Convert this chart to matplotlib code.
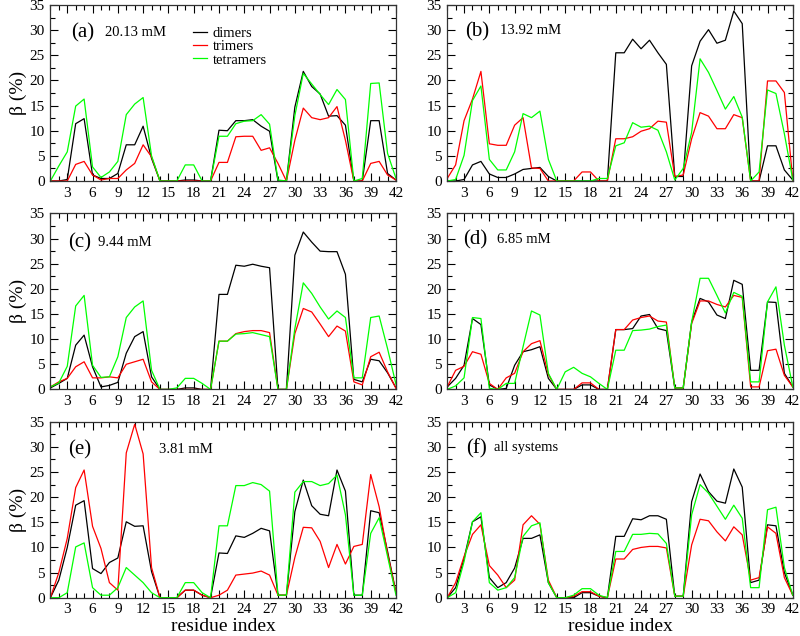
import numpy as np
import matplotlib
matplotlib.use('Agg')
import matplotlib.pyplot as plt
from matplotlib.ticker import MultipleLocator

plt.rcParams['font.family'] = ['Liberation Serif', 'DejaVu Serif']

residue = np.arange(1, 43)

# (a) 20.13 mM
a_dimers = [0, 0, 0.3, 11.4, 12.4, 1.2, 0.5, 0.5, 1.5, 7.2, 7.2, 10.9, 4.5, 0, 0, 0, 0.2, 0.2, 0, 0,
            10.1, 10.0, 12.0, 12.0, 12.2, 10.9, 9.9, 0, 0, 14.7, 21.8, 18.8, 17.3, 12.9, 13.0, 11.1, 0, 0,
            12.0, 12.0, 1.5, 0.2]
a_trimers = [0, 0, 0, 3.3, 3.9, 1.2, 0.2, 0.5, 0.5, 2.2, 3.5, 7.2, 4.8, 0, 0, 0, 0, 0, 0, 0,
             3.7, 3.7, 8.8, 8.9, 8.9, 6.1, 6.6, 3.5, 0, 8.1, 14.5, 12.6, 12.2, 12.6, 14.8, 8.1, 0, 0,
             3.5, 3.9, 1.2, 0.2]
a_tetramers = [0, 3.0, 5.8, 14.9, 16.3, 2.8, 0.7, 1.8, 3.9, 13.2, 15.3, 16.6, 5.0, 0, 0, 0, 3.2, 3.2, 0, 0,
               8.9, 8.9, 11.4, 11.9, 12.0, 13.2, 11.3, 0.2, 0, 13.0, 21.4, 19.3, 17.2, 15.2, 18.2, 16.2, 0, 0.5,
               19.4, 19.5, 5.5, 0.5]

# (b) 13.92 mM
b_dimers = [0, 0, 0.3, 3.2, 3.9, 1.4, 0.7, 0.7, 1.4, 2.3, 2.5, 2.7, 0.9, 0, 0, 0, 0, 0, 0, 0,
            25.5, 25.5, 28.2, 26.3, 28.0, 25.5, 23.2, 0.9, 0.9, 22.9, 27.8, 30.1, 27.4, 28.0, 33.8, 31.3, 0, 0,
            7.0, 7.0, 2.2, 0.2]
b_trimers = [0.5, 3.2, 12.0, 16.3, 21.8, 7.4, 7.1, 7.1, 11.1, 12.6, 2.6, 2.5, 0, 0, 0, 0, 1.8, 1.8, 0, 0,
             8.4, 8.4, 8.8, 9.9, 10.4, 11.9, 11.7, 0.9, 1.2, 8.4, 13.6, 12.9, 10.4, 10.4, 13.2, 12.6, 0, 0,
             19.9, 19.9, 17.6, 0.2]
b_tetramers = [0, 0.3, 5.1, 16.0, 18.9, 4.3, 2.2, 2.2, 5.8, 13.4, 12.6, 13.9, 4.3, 0, 0, 0, 0, 0, 0.5, 0.5,
               7.0, 7.6, 11.6, 10.7, 10.9, 10.1, 5.8, 0.2, 2.5, 9.7, 24.3, 21.6, 18.0, 14.3, 16.8, 12.7, 0, 1.8,
               18.1, 17.4, 9.4, 0.2]

# (c) 9.44 mM
c_dimers = [0.3, 1.2, 2.2, 8.8, 10.8, 4.5, 0.5, 0.8, 1.4, 7.2, 10.5, 11.5, 2.5, 0, 0, 0, 0.3, 0.3, 0, 0,
            18.9, 18.9, 24.7, 24.5, 24.9, 24.5, 24.2, 0, 0, 26.7, 31.3, 29.3, 27.5, 27.4, 27.4, 22.9, 2.0, 1.5,
            6.0, 5.7, 3.3, 0.3]
c_trimers = [0.5, 1.5, 2.2, 4.5, 5.5, 2.3, 2.3, 2.5, 2.3, 5.0, 5.5, 6.0, 1.5, 0, 0, 0, 0, 0, 0, 0,
             9.6, 9.6, 11.1, 11.5, 11.7, 11.7, 11.3, 0, 0, 11.1, 16.1, 15.4, 13.0, 10.5, 12.6, 11.6, 1.5, 0.9,
             6.5, 7.4, 3.5, 0.2]
c_tetramers = [0.5, 1.3, 4.6, 16.6, 18.7, 4.8, 2.4, 2.5, 6.5, 14.3, 16.4, 17.6, 3.8, 0, 0, 0.3, 2.2, 2.2, 1.2, 0,
               9.6, 9.6, 11.0, 11.1, 11.3, 10.9, 10.5, 0, 0, 12.1, 21.2, 19.1, 16.4, 14.0, 15.6, 14.3, 2.3, 2.3,
               14.3, 14.6, 8.1, 1.0]

# (d) 6.85 mM
d_dimers = [0.5, 2.2, 4.8, 14.1, 12.9, 0.9, 0, 0.2, 4.8, 7.5, 7.9, 8.5, 2.2, 0, 0, 0, 0.9, 0.9, 0, 0,
            11.9, 11.9, 12.1, 14.6, 14.9, 12.1, 11.7, 0.3, 0.3, 13.4, 18.1, 17.4, 14.8, 14.1, 21.7, 20.9, 3.8, 3.8,
            17.4, 17.3, 3.2, 0.5]
d_trimers = [0.5, 3.8, 4.6, 7.5, 7.0, 1.2, 0, 2.3, 3.2, 7.5, 9.1, 9.7, 3.0, 0, 0, 0, 1.3, 1.3, 0, 0,
             11.9, 11.9, 13.8, 14.3, 14.6, 13.6, 13.4, 0.3, 0.3, 13.1, 17.6, 17.6, 16.9, 16.4, 18.7, 18.3, 0.5, 0.5,
             7.7, 8.0, 2.8, 0.5]
d_tetramers = [0, 0.7, 2.3, 14.3, 14.1, 0.2, 0, 1.2, 1.2, 8.5, 15.6, 14.8, 3.2, 0, 3.5, 4.4, 3.2, 2.5, 1.2, 0,
               7.8, 7.8, 11.7, 11.8, 12.0, 12.5, 12.8, 0.3, 0.3, 13.4, 22.1, 22.1, 18.7, 15.2, 19.3, 18.5, 1.5, 1.5,
               17.4, 20.4, 8.8, 0.5]

# (e) 3.81 mM
e_dimers = [0, 3.5, 10.0, 18.4, 19.3, 5.8, 4.8, 7.0, 7.9, 15.1, 14.2, 14.3, 5.2, 0, 0, 0, 1.5, 1.5, 0.5, 0,
            8.9, 8.8, 12.3, 12.0, 12.8, 13.8, 13.3, 0.5, 0.5, 17.1, 23.4, 18.3, 16.6, 16.3, 25.4, 21.2, 0.5, 0.5,
            17.3, 16.9, 9.2, 1.0]
e_trimers = [0, 5.0, 11.8, 21.9, 25.4, 14.2, 9.8, 3.0, 1.5, 28.8, 34.5, 28.6, 6.0, 0, 0, 0, 1.5, 1.5, 0.5, 0,
             0.5, 1.5, 4.5, 4.7, 4.9, 5.3, 4.5, 0.5, 0.5, 8.0, 14.0, 13.9, 11.2, 6.0, 10.6, 6.7, 10.2, 10.6,
             24.5, 18.1, 8.8, 1.0]
e_tetramers = [0, 0, 1.0, 10.1, 10.9, 2.0, 0.5, 0.5, 2.0, 6.0, 4.5, 3.0, 1.0, 0, 0, 0, 3.0, 3.0, 1.0, 0,
               14.3, 14.3, 22.3, 22.3, 22.9, 22.5, 21.2, 0.5, 0.5, 21.0, 23.1, 23.1, 22.3, 22.7, 24.4, 16.5, 0.5, 0.5,
               12.8, 15.9, 8.2, 0.5]

# (f) all systems
f_dimers = [0, 2.0, 7.8, 15.1, 16.1, 4.0, 2.0, 3.0, 5.9, 11.8, 11.8, 12.5, 3.0, 0, 0, 0, 1.0, 1.0, 0.3, 0,
            12.2, 12.2, 15.7, 15.5, 16.3, 16.3, 15.6, 0.3, 0.3, 19.1, 24.6, 21.1, 19.2, 18.8, 25.6, 22.0, 3.0, 3.5,
            14.5, 14.3, 5.0, 0.5]
f_trimers = [0, 3.0, 8.2, 12.6, 14.5, 6.4, 4.5, 2.0, 3.5, 14.5, 16.3, 14.6, 3.5, 0, 0, 0.3, 1.2, 1.2, 0.3, 0,
             7.7, 7.7, 9.6, 10.0, 10.2, 10.2, 9.9, 0.3, 0.3, 10.5, 15.6, 15.3, 13.1, 11.3, 14.1, 12.5, 3.5, 4.0,
             14.1, 12.8, 4.0, 0.5]
f_tetramers = [0, 1.0, 7.2, 15.1, 16.9, 3.0, 1.5, 2.0, 4.0, 12.2, 14.3, 14.9, 3.0, 0, 0, 0.5, 1.8, 1.8, 0.5, 0,
               9.2, 9.2, 12.6, 12.6, 12.8, 12.7, 10.8, 0.3, 0.3, 16.5, 22.5, 20.8, 18.2, 15.6, 18.4, 15.8, 2.0, 2.0,
               17.5, 18.0, 6.0, 0.5]

panel_tags = ['(a)', '(b)', '(c)', '(d)', '(e)', '(f)']
panel_notes = ['20.13 mM', '13.92 mM', '9.44 mM', '6.85 mM', '3.81 mM', 'all systems']
series_names = ['dimers', 'trimers', 'tetramers']
series_colors = ['#000000', '#ff0000', '#00ff00']

panels = [
    (a_dimers, a_trimers, a_tetramers),
    (b_dimers, b_trimers, b_tetramers),
    (c_dimers, c_trimers, c_tetramers),
    (d_dimers, d_trimers, d_tetramers),
    (e_dimers, e_trimers, e_tetramers),
    (f_dimers, f_trimers, f_tetramers),
]

fig = plt.figure(figsize=(8.0, 6.36), dpi=100)

# axes boxes in figure fraction
lefts = [0.063, 0.559]
bottoms = [0.7154, 0.3877, 0.0602]
w, h = 0.432, 0.2767

# tag / note positions (axes fraction)
tag_pos = [(0.061, 0.84), (0.052, 0.848), (0.052, 0.83), (0.047, 0.849), (0.052, 0.839), (0.055, 0.849)]
note_x = [0.158, 0.153, 0.138, 0.143, 0.315, 0.135]

for i, data in enumerate(panels):
    row, col = divmod(i, 2)
    ax = fig.add_axes([lefts[col], bottoms[row], w, h])
    for vals, name, colr in zip(data, series_names, series_colors):
        ax.plot(residue, vals, color=colr, lw=0.9, label=name)
    ax.set_xlim(1, 42)
    ax.set_ylim(0, 35)
    ax.xaxis.set_major_locator(MultipleLocator(3))
    ax.xaxis.set_minor_locator(MultipleLocator(1))
    ax.yaxis.set_major_locator(MultipleLocator(5))
    ax.yaxis.set_minor_locator(MultipleLocator(2.5))
    ax.set_xticks(np.arange(3, 43, 3))
    ax.tick_params(which='both', direction='in', top=True, right=True, labelsize=11, width=0.8, pad=4)
    ax.tick_params(which='major', length=6)
    ax.tick_params(which='minor', length=3.5)
    for sp in ax.spines.values():
        sp.set_linewidth(0.9)
        sp.set_color('#333333')

    tx, ty = tag_pos[i]
    ax.text(tx, ty, panel_tags[i], transform=ax.transAxes, fontsize=15, va='center', ha='left')
    ax.text(note_x[i], ty + 0.005, panel_notes[i], transform=ax.transAxes, fontsize=10.5, va='center', ha='left')

    if col == 0:
        ax.set_ylabel('β (%)', fontsize=14, labelpad=2)
    if row == 2:
        ax.set_xlabel('residue index', fontsize=14, labelpad=1)
    if i == 0:
        ax.legend(loc='center left', bbox_to_anchor=(0.412, 0.763), frameon=False, fontsize=10.5,
                  handlelength=1.0, handletextpad=0.35, labelspacing=0.0, borderpad=0, borderaxespad=0)

fig.savefig('out.png', dpi=100)
